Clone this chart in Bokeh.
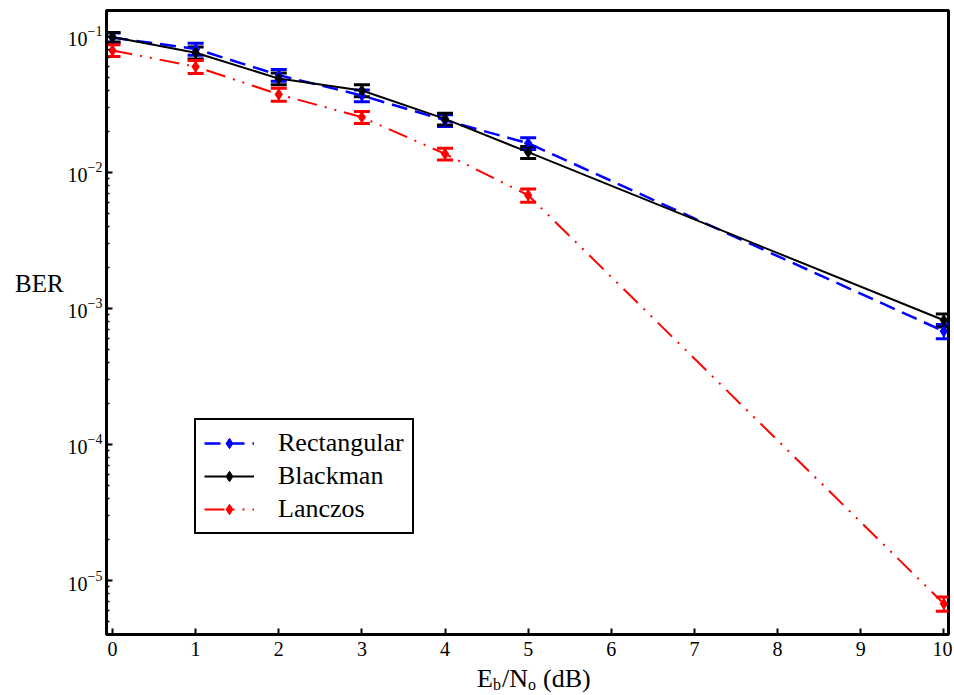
from bokeh.plotting import figure
from bokeh.layouts import row, column
from bokeh.models import (ColumnDataSource, Whisker, TeeHead, Legend, LegendItem,
                          FixedTicker, Range1d, LogTicker, Div)
from bokeh.embed import file_html
from bokeh.resources import INLINE

# ---- data ----
ebno = [0, 1, 2, 3, 4, 5, 10]
ber_rect = [0.098, 0.081, 0.052, 0.0368, 0.0242, 0.0164, 6.8e-4]
ber_black = [0.099, 0.076, 0.049, 0.0401, 0.0248, 0.0141, 8.2e-4]
ber_lanczos = [0.079, 0.060, 0.0375, 0.0255, 0.0137, 0.0068, 6.75e-6]
err_rect = [0.08, 0.10, 0.10, 0.10, 0.10, 0.10, 0.12]
err_black = [0.08, 0.10, 0.10, 0.10, 0.10, 0.10, 0.11]
err_lanczos = [0.10, 0.11, 0.11, 0.10, 0.10, 0.11, 0.12]
series_names = ["Rectangular", "Blackman", "Lanczos"]
x_ticks = [0, 1, 2, 3, 4, 5, 6, 7, 8, 9, 10]
y_label = "BER"

FONT = "Liberation Serif"

LEFT_W = 64
FIG_W, FIG_H = 888, 666

p = figure(width=FIG_W, height=FIG_H, y_axis_type="log",
           x_range=Range1d(-0.072, 10.056),
           y_range=Range1d(10 ** -5.397, 10 ** -0.809),
           output_backend="svg", toolbar_location=None,
           min_border_left=40, min_border_right=4,
           min_border_top=10, min_border_bottom=32, margin=0)
p.grid.visible = False
p.outline_line_color = "black"
p.outline_line_width = 3
p.outline_line_alpha = 1
p.background_fill_color = "white"
p.border_fill_color = "white"

# axes styling
p.xaxis.ticker = FixedTicker(ticks=x_ticks)
p.yaxis.ticker = LogTicker(num_minor_ticks=10)
for ax in (p.xaxis[0], p.yaxis[0]):
    ax.axis_line_width = 3
    ax.axis_line_color = "black"
    ax.major_tick_in = 6
    ax.major_tick_out = 0
    ax.major_tick_line_width = 2
    ax.major_tick_line_color = "black"
    ax.major_label_text_font = FONT
    ax.major_label_text_font_size = "20px"
    ax.major_label_text_color = "black"
p.xaxis.minor_tick_in = 0
p.xaxis.minor_tick_out = 0
p.xaxis.major_label_standoff = 7
p.yaxis.minor_tick_in = 3
p.yaxis.minor_tick_out = 0
p.yaxis.minor_tick_line_width = 1.5
p.yaxis.minor_tick_line_color = "black"
p.yaxis.major_label_standoff = 4

specs = [
    (ber_rect, err_rect, "#0000ff", "16 8", 2.5),
    (ber_black, err_black, "black", "solid", 2),
    (ber_lanczos, err_lanczos, "#ff0000", "20 8 2 8 2 8", 2),
]

items = []
for name, (vals, errs, color, dash, lw) in zip(series_names, specs):
    src = ColumnDataSource(dict(
        x=ebno, y=vals,
        upper=[v * (1 + e) for v, e in zip(vals, errs)],
        lower=[v * (1 - e) for v, e in zip(vals, errs)],
    ))
    w = Whisker(source=src, base="x", upper="upper", lower="lower",
                line_color=color, line_width=2,
                upper_head=TeeHead(size=16, line_color=color, line_width=3),
                lower_head=TeeHead(size=16, line_color=color, line_width=3))
    p.add_layout(w)
    lr = p.line("x", "y", source=src, line_color=color, line_width=lw, line_dash=dash)
    sr = p.scatter("x", "y", source=src, marker="diamond", size=11,
                   fill_color=color, line_color=color)
    items.append(LegendItem(label=name, renderers=[lr, sr]))

legend = Legend(items=items, location=(88, 100),
                label_text_font=FONT, label_text_font_size="26px",
                label_text_color="black",
                label_height=26, glyph_height=26, glyph_width=50,
                spacing=3, padding=8, margin=0, label_standoff=24,
                border_line_color="black", border_line_width=2, border_line_alpha=1,
                background_fill_color="white", background_fill_alpha=1)
p.add_layout(legend, "center")

# horizontal y-axis label, left of the plot
ber_div = Div(
    width=LEFT_W, height=FIG_H, margin=0,
    text=(f'<div style="position:relative;width:{LEFT_W}px;height:{FIG_H}px;">'
          f'<span style="position:absolute;left:15px;top:271px;font-family:\'{FONT}\';'
          f'font-size:25px;line-height:25px;color:black;white-space:nowrap;">{y_label}</span></div>'))

# x-axis label with real subscripts
span = ("position:absolute;top:{t}px;left:{l}px;font-family:'" + FONT +
        "';font-size:{f}px;line-height:{f}px;color:black;white-space:nowrap;")
xlabel_html = ('<div style="position:relative;width:952px;height:29px;">'
               f'<span style="{span.format(t=0, l=477, f=26)}">E</span>'
               f'<span style="{span.format(t=11, l=493, f=16)}">b</span>'
               f'<span style="{span.format(t=0, l=502, f=26)}">/N</span>'
               f'<span style="{span.format(t=11, l=528, f=16)}">o</span>'
               f'<span style="{span.format(t=0, l=543, f=26)}">(dB)</span>'
               '</div>')
xlabel_div = Div(width=LEFT_W + FIG_W, height=29, text=xlabel_html, margin=0)

layout = column(row(ber_div, p, spacing=0), xlabel_div, spacing=0)

open("out.html", "w").write(file_html(layout, INLINE))
